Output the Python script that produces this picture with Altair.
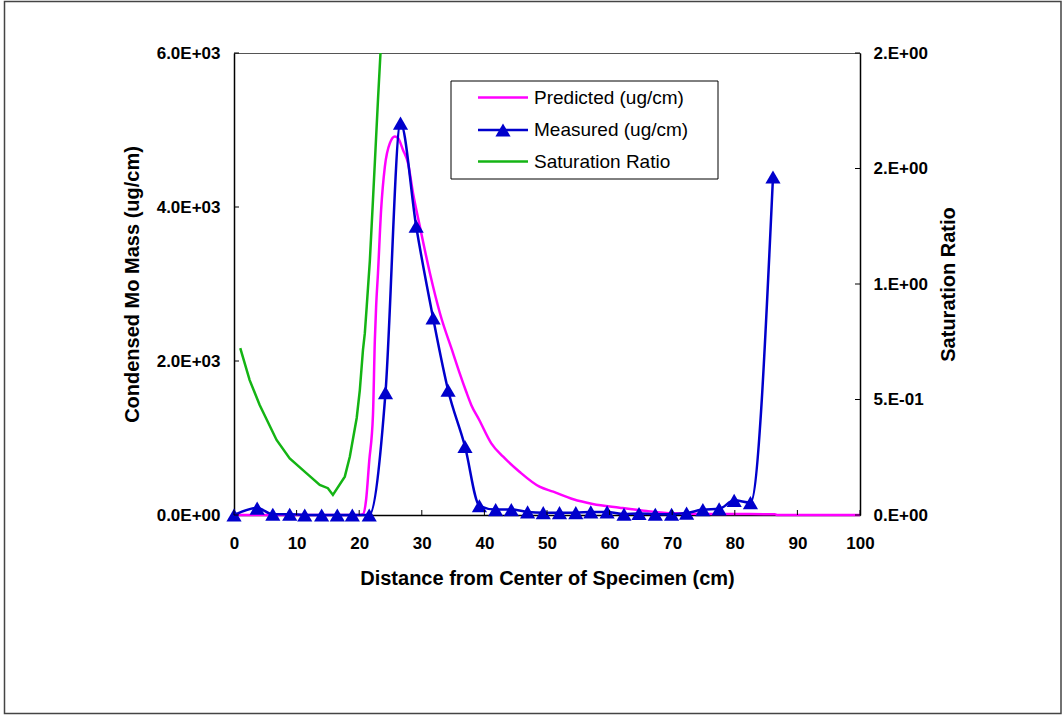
import altair as alt
import pandas as pd

FONT = "Liberation Sans"
W, H = 626, 462

# ---------------- data ----------------
pred_x = [0, 5, 10, 15, 20, 20.6, 21.1, 21.6, 22.2, 22.5, 22.7, 23.0, 23.5, 24.1, 24.9,
          25.7, 26.2, 27.0, 27.8, 28.6, 29.7, 31.3, 32.9, 35.0, 36.1,
          37.1, 37.9, 39.2, 41.1, 43.0, 45.6, 48.8, 51.0, 54.2, 57.3,
          61.6, 65.9, 70.1, 75.5, 80.0, 86.4, 86.8, 90, 95, 100]
pred_y = [0, 0, 0, 0, 0, 10, 195, 700, 1300, 2273, 2700, 3143, 3962, 4524, 4829,
          4914, 4893, 4741, 4568, 4179, 3745, 3140, 2620, 2100, 1830,
          1600, 1430, 1230, 931, 757, 562, 368, 303, 204, 143,
          95, 52, 22, 13, 13, 10, 0, 0, 0, 0]

meas_x = [0, 3.7, 6.2, 8.9, 11.3, 14.0, 16.5, 18.9, 21.6,
          24.2, 26.6, 29.1, 31.8, 34.2, 36.9, 39.2,
          41.8, 44.3, 46.9, 49.4, 52.0, 54.6, 57.0, 59.6,
          62.3, 64.7, 67.3, 69.9, 72.3, 74.9, 77.5, 79.9, 82.5, 86.1]
meas_y = [0, 90, 10, 10, 0, 0, 0, 0, 0,
          1590, 5090, 3750, 2560, 1620, 890, 120,
          70, 70, 40, 30, 30, 30, 40, 40,
          10, 20, 10, 10, 25, 70, 80, 190, 160, 4390]

sat_x = [1.0, 2.5, 4.1, 6.8, 8.9, 11.6, 13.7, 15.0, 15.8, 17.7, 18.5, 19.6, 20.1,
         20.6, 20.9, 21.2, 21.7, 22.2, 22.6, 23.0, 23.4]
sat_y = [0.722, 0.584, 0.476, 0.325, 0.245, 0.180, 0.130, 0.116, 0.087, 0.166, 0.252,
         0.420, 0.541, 0.714, 0.787, 0.902, 1.100, 1.364, 1.580, 1.797, 2.000]

x_ticks = [0, 10, 20, 30, 40, 50, 60, 70, 80, 90, 100]
yl_ticks = [0, 2000, 4000, 6000]
yl_labels = ["0.0E+00", "2.0E+03", "4.0E+03", "6.0E+03"]
yr_ticks = [0, 0.5, 1.0, 1.5, 2.0]
yr_labels = ["0.E+00", "5.E-01", "1.E+00", "2.E+00", "2.E+00"]

legend_labels = ["Predicted (ug/cm)", "Measured (ug/cm)", "Saturation Ratio"]
legend_colors = ["#FF00FF", "#0000CC", "#14B414"]

# ---------------- frames ----------------
pred_df = pd.DataFrame({"x": pred_x, "mass": pred_y})
meas_df = pd.DataFrame({"x": meas_x, "mass": meas_y})
sat_df = pd.DataFrame({"x": sat_x, "ratio": sat_y})
xt_df = pd.DataFrame({"x": x_ticks})
ylt_df = pd.DataFrame({"mass": yl_ticks})
yrt_df = pd.DataFrame({"ratio": yr_ticks})
one = pd.DataFrame({"k": [0]})

x_scale = alt.Scale(domain=[0, 100], nice=False, zero=False)
yl_scale = alt.Scale(domain=[0, 6000], nice=False)
yr_scale = alt.Scale(domain=[0, 2], nice=False)


def label_expr(vals, labels):
    expr = "''"
    for v, l in reversed(list(zip(vals, labels))):
        expr = f"datum.value == {v} ? '{l}' : ({expr})"
    return expr


common = dict(
    grid=False, ticks=False, tickSize=0, labelFlush=False, labelOverlap=False,
    labelFont=FONT, labelFontSize=17, labelFontWeight="bold", labelColor="black",
    titleFont=FONT, titleFontSize=20, titleFontWeight="bold", titleColor="black",
    domainColor="black", domainWidth=1.5,
)

x_axis = alt.Axis(values=x_ticks, title="Distance from Center of Specimen (cm)",
                  labelPadding=20, titleX=W / 2, titleY=63, titleBaseline="middle",
                  titleAlign="center", **common)
yl_axis = alt.Axis(values=yl_ticks, labelExpr=label_expr(yl_ticks, yl_labels),
                   title="Condensed Mo Mass (ug/cm)", labelPadding=14,
                   titleAngle=270, titleX=-101.5, titleY=H / 2, titleBaseline="middle",
                   titleAlign="center", **common)
yr_axis = alt.Axis(values=yr_ticks, labelExpr=label_expr(yr_ticks, yr_labels),
                   title="Saturation Ratio", orient="right", labelPadding=13,
                   titleAngle=270, titleX=88.5, titleY=H / 2, titleBaseline="middle",
                   titleAlign="center", **common)

X = alt.X("x:Q", scale=x_scale, axis=x_axis)
YL = alt.Y("mass:Q", scale=yl_scale, axis=yl_axis)
YR = alt.Y("ratio:Q", scale=yr_scale, axis=yr_axis)

pred_line = alt.Chart(pred_df).mark_line(color=legend_colors[0], strokeWidth=2.5,
                                         interpolate="monotone").encode(x=X, y=YL)
meas_line = alt.Chart(meas_df).mark_line(color=legend_colors[1], strokeWidth=2.5,
                                         interpolate="monotone").encode(x=X, y=YL)
meas_pts = alt.Chart(meas_df).mark_point(shape="triangle-up", filled=True, size=230,
                                         color=legend_colors[1], opacity=1).encode(x=X, y=YL)

# inward tick marks (Excel style)
x_tick_marks = alt.Chart(xt_df).mark_rule(color="black", strokeWidth=1).encode(
    x=X, y=alt.value(H - 5), y2=alt.value(H))
yl_tick_marks = alt.Chart(ylt_df).mark_rule(color="black", strokeWidth=1).encode(
    y=YL, x=alt.value(0), x2=alt.value(5))

# legend (decoration, pixel placed)
LX0, LX1, LY0, LY1 = 217, 484, 28, 126
legend_box = alt.Chart(one).mark_rect(fill="white", stroke="black", strokeWidth=1).encode(
    x=alt.value(LX0), x2=alt.value(LX1), y=alt.value(LY0), y2=alt.value(LY1))
legend_layers = [legend_box]
row_y = [44.5, 77, 108.5]
for lab, col, ry in zip(legend_labels, legend_colors, row_y):
    legend_layers.append(alt.Chart(one).mark_rule(color=col, strokeWidth=2.5).encode(
        x=alt.value(244), x2=alt.value(294), y=alt.value(ry)))
    legend_layers.append(alt.Chart(one).mark_text(
        align="left", baseline="middle", font=FONT, fontSize=19, color="black").encode(
        x=alt.value(300), y=alt.value(ry), text=alt.value(lab)))
legend_layers.append(alt.Chart(one).mark_point(
    shape="triangle-up", filled=True, size=230, color=legend_colors[1], opacity=1).encode(
    x=alt.value(269), y=alt.value(row_y[1])))

# outer frame of the figure
frame = alt.Chart(one).mark_rect(fillOpacity=0, stroke="#444", strokeWidth=1.5).encode(
    x=alt.value(-229.5), x2=alt.value(827), y=alt.value(-51.5), y2=alt.value(660.5))

group_left = alt.layer(pred_line, meas_line, meas_pts, x_tick_marks, yl_tick_marks,
                       frame, *legend_layers)

sat_line = alt.Chart(sat_df).mark_line(color=legend_colors[2], strokeWidth=2.5).encode(
    x=X, y=YR)
yr_tick_marks = alt.Chart(yrt_df).mark_rule(color="black", strokeWidth=1).encode(
    y=YR, x=alt.value(W - 5), x2=alt.value(W))
group_right = alt.layer(sat_line, yr_tick_marks)

chart = alt.layer(group_left, group_right).resolve_scale(y="independent").properties(
    width=W, height=H,
    autosize=alt.AutoSizeParams(type="none"),
    padding={"left": 234, "top": 53, "right": 202, "bottom": 200},
    background="white",
).configure_view(stroke="#555", strokeWidth=1)

chart.save("out.html", embed_options={"renderer": "svg", "actions": False})
